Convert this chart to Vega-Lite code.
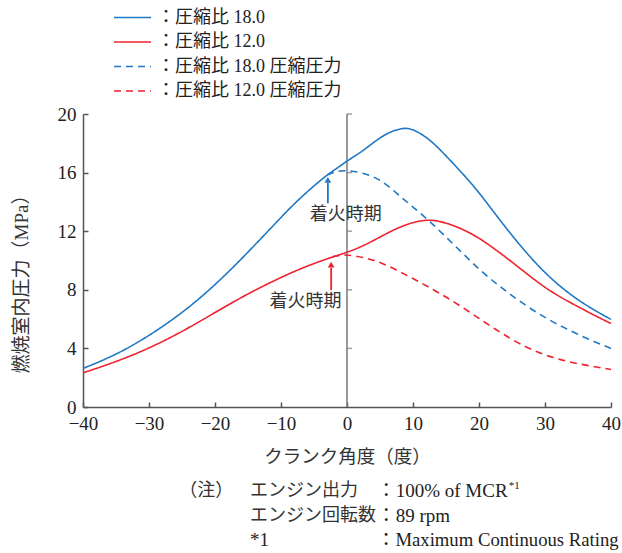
{
  "$schema": "https://vega.github.io/schema/vega-lite/v6.json",
  "autosize": "none",
  "padding": {"left": 83, "top": 114, "right": 11, "bottom": 146},
  "width": 528,
  "height": 293,
  "background": "white",
  "config": {
    "font": "Liberation Serif, Noto Sans CJK JP",
    "view": {"stroke": null}
  },
  "data": {"values": [{}]},
  "datasets": {
    "curves": [
      {"series": "圧縮比 18.0", "angle": -40, "pressure": 2.63},
      {"series": "圧縮比 18.0", "angle": -35, "pressure": 3.55},
      {"series": "圧縮比 18.0", "angle": -30, "pressure": 4.85},
      {"series": "圧縮比 18.0", "angle": -25, "pressure": 6.4},
      {"series": "圧縮比 18.0", "angle": -20, "pressure": 8.3},
      {"series": "圧縮比 18.0", "angle": -15, "pressure": 10.55},
      {"series": "圧縮比 18.0", "angle": -10, "pressure": 12.95},
      {"series": "圧縮比 18.0", "angle": -7.5, "pressure": 14.1},
      {"series": "圧縮比 18.0", "angle": -5, "pressure": 15.1},
      {"series": "圧縮比 18.0", "angle": -3, "pressure": 15.85},
      {"series": "圧縮比 18.0", "angle": -1.5, "pressure": 16.3},
      {"series": "圧縮比 18.0", "angle": 0, "pressure": 16.8},
      {"series": "圧縮比 18.0", "angle": 2, "pressure": 17.35},
      {"series": "圧縮比 18.0", "angle": 4, "pressure": 18.05},
      {"series": "圧縮比 18.0", "angle": 6, "pressure": 18.7},
      {"series": "圧縮比 18.0", "angle": 8.5, "pressure": 19.08},
      {"series": "圧縮比 18.0", "angle": 10, "pressure": 18.98},
      {"series": "圧縮比 18.0", "angle": 12.5, "pressure": 18.3},
      {"series": "圧縮比 18.0", "angle": 15, "pressure": 17.15},
      {"series": "圧縮比 18.0", "angle": 17.5, "pressure": 15.95},
      {"series": "圧縮比 18.0", "angle": 20, "pressure": 14.65},
      {"series": "圧縮比 18.0", "angle": 22.5, "pressure": 13.15},
      {"series": "圧縮比 18.0", "angle": 25, "pressure": 11.7},
      {"series": "圧縮比 18.0", "angle": 27.5, "pressure": 10.35},
      {"series": "圧縮比 18.0", "angle": 30, "pressure": 9.15},
      {"series": "圧縮比 18.0", "angle": 32.5, "pressure": 8.15},
      {"series": "圧縮比 18.0", "angle": 35, "pressure": 7.3},
      {"series": "圧縮比 18.0", "angle": 37.5, "pressure": 6.6},
      {"series": "圧縮比 18.0", "angle": 40, "pressure": 5.98},

      {"series": "圧縮比 12.0", "angle": -40, "pressure": 2.33},
      {"series": "圧縮比 12.0", "angle": -35, "pressure": 3.08},
      {"series": "圧縮比 12.0", "angle": -30, "pressure": 4.0},
      {"series": "圧縮比 12.0", "angle": -25, "pressure": 5.13},
      {"series": "圧縮比 12.0", "angle": -20, "pressure": 6.45},
      {"series": "圧縮比 12.0", "angle": -15, "pressure": 7.75},
      {"series": "圧縮比 12.0", "angle": -10, "pressure": 8.85},
      {"series": "圧縮比 12.0", "angle": -7.5, "pressure": 9.35},
      {"series": "圧縮比 12.0", "angle": -5, "pressure": 9.8},
      {"series": "圧縮比 12.0", "angle": -2.5, "pressure": 10.2},
      {"series": "圧縮比 12.0", "angle": 0, "pressure": 10.55},
      {"series": "圧縮比 12.0", "angle": 2.5, "pressure": 11.0},
      {"series": "圧縮比 12.0", "angle": 5, "pressure": 11.6},
      {"series": "圧縮比 12.0", "angle": 7.5, "pressure": 12.2},
      {"series": "圧縮比 12.0", "angle": 10, "pressure": 12.62},
      {"series": "圧縮比 12.0", "angle": 12.5, "pressure": 12.82},
      {"series": "圧縮比 12.0", "angle": 15, "pressure": 12.58},
      {"series": "圧縮比 12.0", "angle": 17.5, "pressure": 12.15},
      {"series": "圧縮比 12.0", "angle": 20, "pressure": 11.55},
      {"series": "圧縮比 12.0", "angle": 22.5, "pressure": 10.75},
      {"series": "圧縮比 12.0", "angle": 25, "pressure": 9.9},
      {"series": "圧縮比 12.0", "angle": 27.5, "pressure": 9.0},
      {"series": "圧縮比 12.0", "angle": 30, "pressure": 8.15},
      {"series": "圧縮比 12.0", "angle": 32.5, "pressure": 7.45},
      {"series": "圧縮比 12.0", "angle": 35, "pressure": 6.85},
      {"series": "圧縮比 12.0", "angle": 37.5, "pressure": 6.25},
      {"series": "圧縮比 12.0", "angle": 40, "pressure": 5.7},

      {"series": "圧縮比 18.0 圧縮圧力", "angle": -3, "pressure": 15.85},
      {"series": "圧縮比 18.0 圧縮圧力", "angle": -1.5, "pressure": 16.1},
      {"series": "圧縮比 18.0 圧縮圧力", "angle": 0, "pressure": 16.15},
      {"series": "圧縮比 18.0 圧縮圧力", "angle": 2, "pressure": 16.02},
      {"series": "圧縮比 18.0 圧縮圧力", "angle": 4, "pressure": 15.75},
      {"series": "圧縮比 18.0 圧縮圧力", "angle": 6, "pressure": 15.2},
      {"series": "圧縮比 18.0 圧縮圧力", "angle": 8, "pressure": 14.4},
      {"series": "圧縮比 18.0 圧縮圧力", "angle": 10, "pressure": 13.65},
      {"series": "圧縮比 18.0 圧縮圧力", "angle": 12.5, "pressure": 12.7},
      {"series": "圧縮比 18.0 圧縮圧力", "angle": 15, "pressure": 11.6},
      {"series": "圧縮比 18.0 圧縮圧力", "angle": 17.5, "pressure": 10.5},
      {"series": "圧縮比 18.0 圧縮圧力", "angle": 20, "pressure": 9.4},
      {"series": "圧縮比 18.0 圧縮圧力", "angle": 22.5, "pressure": 8.45},
      {"series": "圧縮比 18.0 圧縮圧力", "angle": 25, "pressure": 7.6},
      {"series": "圧縮比 18.0 圧縮圧力", "angle": 27.5, "pressure": 6.8},
      {"series": "圧縮比 18.0 圧縮圧力", "angle": 30, "pressure": 6.1},
      {"series": "圧縮比 18.0 圧縮圧力", "angle": 32.5, "pressure": 5.5},
      {"series": "圧縮比 18.0 圧縮圧力", "angle": 35, "pressure": 4.95},
      {"series": "圧縮比 18.0 圧縮圧力", "angle": 37.5, "pressure": 4.45},
      {"series": "圧縮比 18.0 圧縮圧力", "angle": 40, "pressure": 4.0},

      {"series": "圧縮比 12.0 圧縮圧力", "angle": -2.2, "pressure": 10.25},
      {"series": "圧縮比 12.0 圧縮圧力", "angle": -1, "pressure": 10.36},
      {"series": "圧縮比 12.0 圧縮圧力", "angle": 0, "pressure": 10.4},
      {"series": "圧縮比 12.0 圧縮圧力", "angle": 2.5, "pressure": 10.22},
      {"series": "圧縮比 12.0 圧縮圧力", "angle": 5, "pressure": 9.9},
      {"series": "圧縮比 12.0 圧縮圧力", "angle": 7.5, "pressure": 9.35},
      {"series": "圧縮比 12.0 圧縮圧力", "angle": 10, "pressure": 8.78},
      {"series": "圧縮比 12.0 圧縮圧力", "angle": 12.5, "pressure": 8.15},
      {"series": "圧縮比 12.0 圧縮圧力", "angle": 15, "pressure": 7.52},
      {"series": "圧縮比 12.0 圧縮圧力", "angle": 17.5, "pressure": 6.8},
      {"series": "圧縮比 12.0 圧縮圧力", "angle": 20, "pressure": 6.05},
      {"series": "圧縮比 12.0 圧縮圧力", "angle": 22.5, "pressure": 5.3},
      {"series": "圧縮比 12.0 圧縮圧力", "angle": 25, "pressure": 4.6},
      {"series": "圧縮比 12.0 圧縮圧力", "angle": 27.5, "pressure": 4.0},
      {"series": "圧縮比 12.0 圧縮圧力", "angle": 30, "pressure": 3.55},
      {"series": "圧縮比 12.0 圧縮圧力", "angle": 32.5, "pressure": 3.2},
      {"series": "圧縮比 12.0 圧縮圧力", "angle": 35, "pressure": 2.95},
      {"series": "圧縮比 12.0 圧縮圧力", "angle": 37.5, "pressure": 2.75},
      {"series": "圧縮比 12.0 圧縮圧力", "angle": 40, "pressure": 2.56}
    ],
    "zeroTicks": [{"p": 4}, {"p": 8}, {"p": 12}, {"p": 16}, {"p": 20}]
  },
  "layer": [
    {
      "mark": {"type": "rule", "color": "#777", "strokeWidth": 1.5},
      "encoding": {"x": {"datum": 0}, "y": {"datum": 0}, "y2": {"datum": 20}}
    },
    {
      "data": {"name": "zeroTicks"},
      "mark": {"type": "tick", "orient": "horizontal", "size": 5, "thickness": 1.5, "xOffset": 2.5, "color": "#777"},
      "encoding": {"x": {"datum": 0}, "y": {"field": "p", "type": "quantitative"}}
    },
    {
      "data": {"name": "curves"},
      "mark": {"type": "line", "interpolate": "basis", "strokeWidth": 1.6},
      "encoding": {
        "x": {
          "field": "angle", "type": "quantitative",
          "scale": {"domain": [-40, 40], "nice": false},
          "axis": {
            "values": [-40, -30, -20, -10, 0, 10, 20, 30, 40],
            "title": "クランク角度（度）",
            "titleFont": "Noto Sans CJK JP", "titleFontSize": 18.5, "titleFontWeight": "normal", "titleColor": "#333",
            "titlePadding": 14,
            "labelFontSize": 19, "labelColor": "#222", "labelPadding": 12, "labelFlush": false,
            "tickSize": -5, "tickColor": "#555", "tickWidth": 1.5,
            "domainColor": "#555", "domainWidth": 1.5, "grid": false
          }
        },
        "y": {
          "field": "pressure", "type": "quantitative",
          "scale": {"domain": [0, 20], "nice": false},
          "axis": {
            "values": [0, 4, 8, 12, 16, 20],
            "title": "燃焼室内圧力（MPa）",
            "titleFontSize": 19, "titleFontWeight": "normal", "titleColor": "#333",
            "titlePadding": 26, "titleY": 165,
            "labelFontSize": 19, "labelColor": "#222", "labelPadding": 12,
            "tickSize": -5, "tickColor": "#555", "tickWidth": 1.5,
            "domainColor": "#555", "domainWidth": 1.5, "grid": false
          }
        },
        "color": {
          "field": "series", "type": "nominal",
          "scale": {
            "domain": ["圧縮比 18.0", "圧縮比 12.0", "圧縮比 18.0 圧縮圧力", "圧縮比 12.0 圧縮圧力"],
            "range": ["#1f78c4", "#ee2230", "#1f78c4", "#ee2230"]
          },
          "legend": {
            "title": null, "orient": "none", "legendX": 39, "legendY": -107,
            "symbolType": "M-2,0H2", "symbolSize": 342, "symbolStrokeWidth": 1.6,
            "labelFontSize": 18, "labelColor": "#222", "labelOffset": 14, "rowPadding": 4.5,
            "padding": 0, "labelLimit": 400,
            "labelExpr": "'：' + datum.label"
          }
        },
        "strokeDash": {
          "field": "series", "type": "nominal",
          "scale": {
            "domain": ["圧縮比 18.0", "圧縮比 12.0", "圧縮比 18.0 圧縮圧力", "圧縮比 12.0 圧縮圧力"],
            "range": [[1, 0], [1, 0], [7, 5], [7, 5]]
          },
          "legend": {
            "title": null, "orient": "none", "legendX": 39, "legendY": -107,
            "symbolType": "M-2,0H2", "symbolSize": 342, "symbolStrokeWidth": 1.6,
            "labelFontSize": 18, "labelColor": "#222", "labelOffset": 14, "rowPadding": 4.5,
            "padding": 0, "labelLimit": 400,
            "labelExpr": "'：' + datum.label"
          }
        }
      }
    },
    {
      "mark": {"type": "rule", "color": "#1f78c4", "strokeWidth": 1.8},
      "encoding": {"x": {"datum": -2.9}, "y": {"datum": 13.9}, "y2": {"datum": 15.3}}
    },
    {
      "mark": {"type": "point", "shape": "triangle-up", "filled": true, "opacity": 1, "size": 45, "color": "#1f78c4"},
      "encoding": {"x": {"datum": -2.9}, "y": {"datum": 15.5}}
    },
    {
      "mark": {"type": "rule", "color": "#ee2230", "strokeWidth": 1.8},
      "encoding": {"x": {"datum": -2.4}, "y": {"datum": 7.98}, "y2": {"datum": 9.5}}
    },
    {
      "mark": {"type": "point", "shape": "triangle-up", "filled": true, "opacity": 1, "size": 45, "color": "#ee2230"},
      "encoding": {"x": {"datum": -2.4}, "y": {"datum": 9.72}}
    },
    {
      "mark": {"type": "text", "text": "着火時期", "font": "Noto Sans CJK JP", "fontSize": 18, "color": "#333", "align": "center", "baseline": "middle"},
      "encoding": {"x": {"datum": -0.2}, "y": {"datum": 13.1}}
    },
    {
      "mark": {"type": "text", "text": "着火時期", "font": "Noto Sans CJK JP", "fontSize": 18, "color": "#333", "align": "center", "baseline": "middle"},
      "encoding": {"x": {"datum": -6.3}, "y": {"datum": 7.18}}
    },
    {
      "mark": {"type": "text", "text": "（注）", "fontSize": 18, "color": "#333", "align": "left", "baseline": "middle"},
      "encoding": {"x": {"datum": -25.4}, "y": {"datum": -5.75}}
    },
    {
      "mark": {"type": "text", "text": "エンジン出力", "fontSize": 18, "color": "#333", "align": "left", "baseline": "middle"},
      "encoding": {"x": {"datum": -14.7}, "y": {"datum": -5.75}}
    },
    {
      "mark": {"type": "text", "text": "エンジン回転数", "fontSize": 18, "color": "#333", "align": "left", "baseline": "middle"},
      "encoding": {"x": {"datum": -14.7}, "y": {"datum": -7.45}}
    },
    {
      "mark": {"type": "text", "text": "*1", "fontSize": 19, "color": "#222", "align": "left", "baseline": "middle"},
      "encoding": {"x": {"datum": -14.7}, "y": {"datum": -9.05}}
    },
    {
      "mark": {"type": "text", "text": "：100% of MCR", "fontSize": 19, "color": "#222", "align": "left", "baseline": "middle"},
      "encoding": {"x": {"datum": 4.5}, "y": {"datum": -5.75}}
    },
    {
      "mark": {"type": "text", "text": "*1", "fontSize": 11, "color": "#222", "align": "left", "baseline": "middle"},
      "encoding": {"x": {"datum": 24.5}, "y": {"datum": -5.4}}
    },
    {
      "mark": {"type": "text", "text": "：89 rpm", "fontSize": 19, "color": "#222", "align": "left", "baseline": "middle"},
      "encoding": {"x": {"datum": 4.5}, "y": {"datum": -7.45}}
    },
    {
      "mark": {"type": "text", "text": "：Maximum Continuous Rating", "fontSize": 18.7, "color": "#222", "align": "left", "baseline": "middle"},
      "encoding": {"x": {"datum": 4.5}, "y": {"datum": -9.05}}
    }
  ]
}
